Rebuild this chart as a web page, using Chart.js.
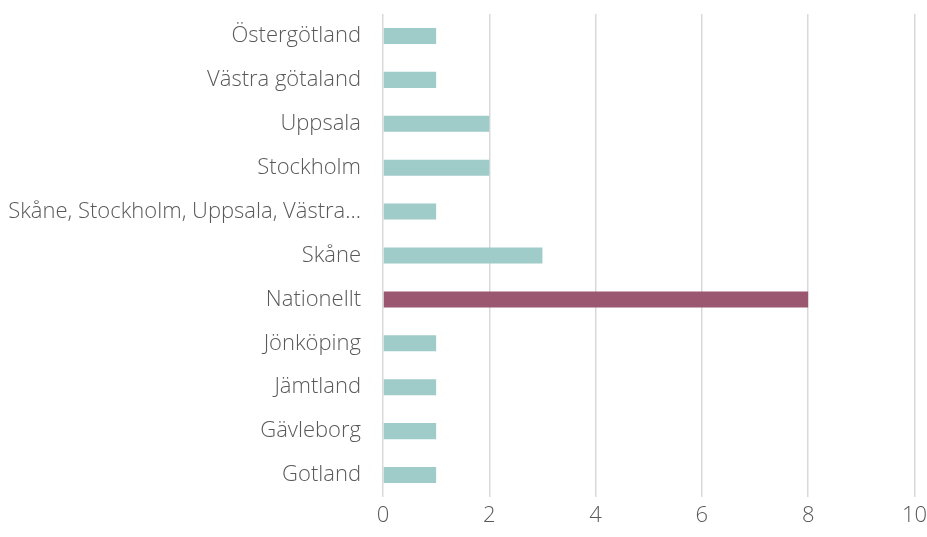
<!DOCTYPE html>
<html>
<head>
<meta charset="utf-8">
<script src="https://cdn.jsdelivr.net/npm/chart.js@4/dist/chart.umd.min.js"></script>
<style>
  html, body { margin: 0; padding: 0; background: #fff; }
  #wrap { width: 927px; height: 537px; }
</style>
</head>
<body>
<div id="wrap"><canvas id="chart" width="927" height="537"></canvas></div>
<script>
// ====== Data ======
const categories = [
  'Östergötland', 'Västra götaland', 'Uppsala', 'Stockholm',
  'Skåne, Stockholm, Uppsala, Västra…', 'Skåne', 'Nationellt',
  'Jönköping', 'Jämtland', 'Gävleborg', 'Gotland'
];
const values = [1, 1, 2, 2, 1, 3, 8, 1, 1, 1, 1];
const highlight = 'Nationellt';
const xTicks = [0, 2, 4, 6, 8, 10];

const TEAL = '#9fcbc9';
const PLUM = '#9b5770';
const TEXT = '#595959';
const GRID = '#d9d9d9';

Chart.defaults.font.family = '"Open Sans", Lato, sans-serif';
Chart.defaults.font.weight = 300;
Chart.defaults.font.size = 22;
Chart.defaults.color = TEXT;

// tick gaps are done with invisible tick marks so they don't pad the chart area
const chart = new Chart(document.getElementById('chart').getContext('2d'), {
  type: 'bar',
  data: {
    labels: categories,
    datasets: [{
      data: values,
      backgroundColor: categories.map(c => c === highlight ? PLUM : TEAL),
      categoryPercentage: 1,
      barPercentage: 0.365
    }]
  },
  options: {
    indexAxis: 'y',
    responsive: false,
    animation: false,
    layout: { padding: { top: 14, right: 0, left: 0, bottom: 0 } },
    plugins: { legend: { display: false }, tooltip: { enabled: false } },
    scales: {
      x: {
        min: 0, max: 10,
        afterBuildTicks: s => { s.ticks = xTicks.map(v => ({ value: v })); },
        grid: { color: GRID, lineWidth: 1.5, drawTicks: true, tickLength: 6, tickColor: 'transparent' },
        border: { display: false },
        ticks: { padding: 0, color: TEXT },
        afterFit: s => { s.height = 40; }
      },
      y: {
        grid: { display: true, drawOnChartArea: false, drawTicks: true, tickLength: 22, tickColor: 'transparent', color: 'transparent' },
        border: { display: false },
        ticks: { padding: 0, color: TEXT, autoSkip: false },
        afterFit: s => { s.width = 383; }
      }
    }
  }
});
console.log(JSON.stringify(chart.chartArea));
</script>
</body>
</html>
